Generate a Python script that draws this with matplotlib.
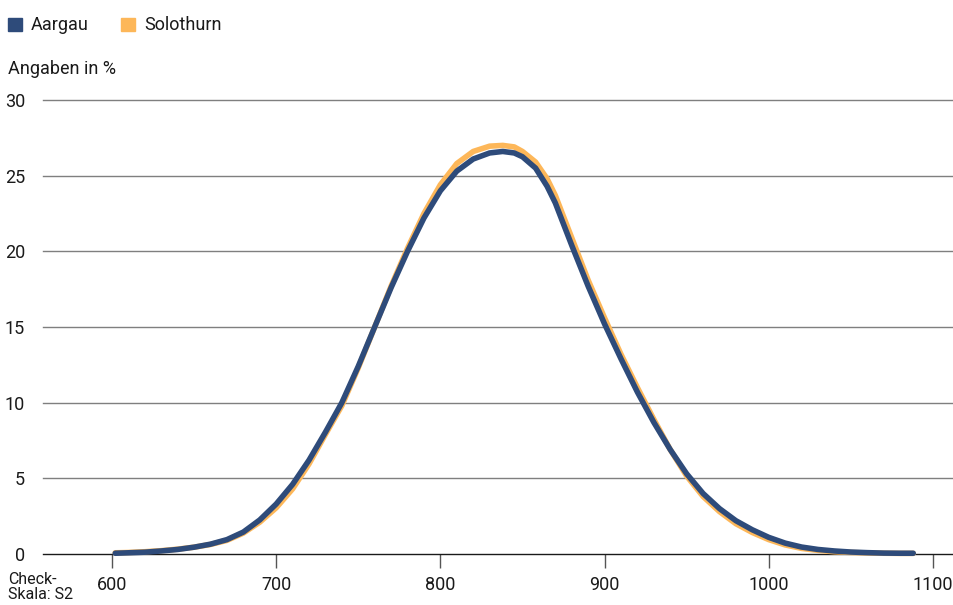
import matplotlib.pyplot as plt
import numpy as np
from matplotlib.patches import Rectangle

plt.rcParams['font.family'] = ['Roboto', 'DejaVu Sans']

# Values (Angaben in %)
x_points = [602, 610, 620, 630, 640, 650, 660, 670, 680, 690, 700, 710, 720, 730, 740,
            750, 760, 770, 780, 790, 800, 810, 820, 830, 838, 845, 850, 858, 865, 870, 880,
            890, 900, 910, 920, 930, 940, 950, 960, 970, 980, 990, 1000, 1010, 1020,
            1030, 1040, 1050, 1060, 1070, 1080, 1088]
aargau = [0.05, 0.08, 0.12, 0.2, 0.3, 0.45, 0.65, 0.95, 1.45, 2.25, 3.3, 4.6, 6.2, 8.05, 10.0,
          12.4, 15.0, 17.6, 20.0, 22.2, 24.0, 25.3, 26.1, 26.5, 26.6, 26.5, 26.25, 25.5, 24.3, 23.2, 20.4,
          17.7, 15.2, 12.9, 10.7, 8.7, 6.9, 5.3, 4.0, 3.0, 2.2, 1.6, 1.1, 0.72, 0.46,
          0.3, 0.2, 0.13, 0.09, 0.06, 0.05, 0.05]
solothurn = [0.08, 0.1, 0.15, 0.22, 0.32, 0.45, 0.63, 0.9, 1.38, 2.1, 3.05, 4.3, 5.95, 7.9, 9.8,
             12.3, 15.0, 17.7, 20.2, 22.5, 24.4, 25.8, 26.6, 26.95, 27.0, 26.9, 26.6, 25.9, 24.8, 23.7, 20.9,
             18.1, 15.6, 13.2, 11.0, 8.9, 6.9, 5.15, 3.8, 2.8, 2.0, 1.42, 0.95, 0.6, 0.37,
             0.24, 0.15, 0.1, 0.07, 0.05, 0.04, 0.04]

series = ['Aargau', 'Solothurn']
colors = {'Aargau': '#2E4B7A', 'Solothurn': '#FDB759'}
x_ticks = [600, 700, 800, 900, 1000, 1100]
y_ticks = [0, 5, 10, 15, 20, 25, 30]

fig = plt.figure(figsize=(9.54, 6.05), dpi=100)
ax = fig.add_axes([43 / 954, 1 - 554 / 605, (952 - 43) / 954, (554 - 100) / 605])

for name, vals, z in [('Solothurn', solothurn, 3), ('Aargau', aargau, 4)]:
    ax.plot(x_points, vals, color=colors[name], lw=4.0, solid_capstyle='round',
            solid_joinstyle='round', zorder=z, clip_on=False)

ax.set_xlim(558, 1111.6)
ax.set_ylim(0, 30)

# gridlines
for y in y_ticks[1:]:
    ax.axhline(y, color='#7f7f7f', lw=1.0, zorder=1, clip_on=False)
ax.axhline(0, color='#1a1a1a', lw=1.0, zorder=2, clip_on=False)

for s in ax.spines.values():
    s.set_visible(False)

ax.set_yticks(y_ticks)
ax.set_yticklabels([str(v) for v in y_ticks])
ax.tick_params(axis='y', length=0, pad=13, labelsize=13, labelcolor='#1a1a1a')
ax.set_xticks(x_ticks)
ax.set_xticklabels([str(v) for v in x_ticks])
ax.tick_params(axis='x', length=10, width=1, color='#555555', pad=6,
               labelsize=13, labelcolor='#1a1a1a')

# header texts
fig.text(8 / 954, 1 - 69 / 605, 'Angaben in %', fontsize=13, color='#1a1a1a', va='center')
fig.text(8 / 954, 1 - 587 / 605, 'Check-\nSkala: S2', fontsize=11.5, color='#1a1a1a',
         va='center', linespacing=1.0)

# legend
leg_x = [8, 121]
for name, lx in zip(series, leg_x):
    fig.patches.append(Rectangle((lx / 954, 1 - 31 / 605), 14 / 954, 13 / 605,
                                 transform=fig.transFigure, color=colors[name]))
    fig.text((lx + 23) / 954, 1 - 24.5 / 605, name, fontsize=13, color='#1a1a1a', va='center')

fig.savefig('out.png', dpi=100)
